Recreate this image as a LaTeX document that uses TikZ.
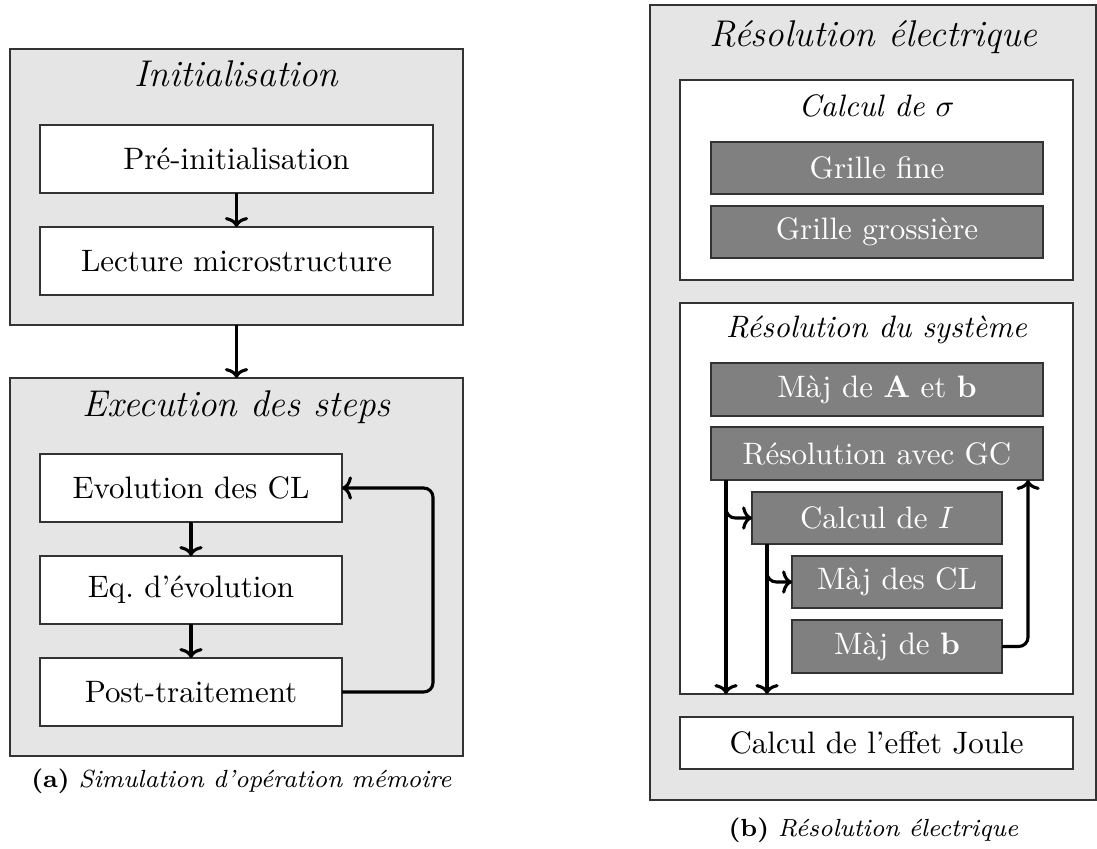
\documentclass[tikz,border=0pt]{standalone}
\usetikzlibrary{arrows.meta}
\newcommand\pxu{0.32258pt}
\begin{document}
\begin{tikzpicture}[x=0.32258pt,y=-0.32258pt,
  every node/.style={inner sep=0pt, outer sep=0pt},
  sz/.style 2 args={minimum width=#1*\pxu, minimum height=#2*\pxu},
  panel/.style={draw=black!80, fill=gray!20, line width=0.5pt, rectangle},
  wbox/.style={draw=black!80, fill=white, line width=0.5pt, rectangle, font=\fontsize{10}{12}\selectfont},
  gbox/.style={draw=black!80, fill=gray, text=white, line width=0.5pt, rectangle, font=\fontsize{10}{12}\selectfont},
  ttl/.style={font=\fontsize{12}{14}\selectfont\itshape, anchor=base},
  sttl/.style={font=\fontsize{10}{12}\selectfont\itshape, anchor=base},
  captxt/.style={font=\fontsize{8}{10}\selectfont, anchor=base},
  arr/.style={-{Computer Modern Rightarrow[width=7.5pt,length=3.2pt]}, line width=1pt},
]
\useasboundingbox (0,0) rectangle (1097,848);
% ---- left panel
\node[panel, sz={453}{276}] (init) at (236.5,187) {};
\node[ttl] (initT) at (236.5,87) {Initialisation};
\node[wbox, sz={393}{68}] (pre) at (236.5,159) {Pré-initialisation};
\node[wbox, sz={393}{68}] (lect) at (236.5,261) {Lecture microstructure};
\node[panel, sz={453}{378}] (exec) at (236.5,567) {};
\node[ttl] (execT) at (236.5,416) {Execution des steps};
\node[wbox, sz={302}{68}] (evol) at (191,488) {Evolution des CL};
\node[wbox, sz={302}{68}] (eq) at (191,590) {Eq.\ d’évolution};
\node[wbox, sz={302}{68}] (post) at (191,692) {Post-traitement};
\node[captxt] (capa) at (241.5,787) {\textbf{(a)} \textit{Simulation d’opération mémoire}};
\draw[arr] (pre) -- (lect);
\draw[arr] (init) -- (exec);
\draw[arr] (evol) -- (eq);
\draw[arr] (eq) -- (post);
\coordinate (lp) at (433,0);
\draw[arr, rounded corners=3pt] (post.east) -- (post.east -| lp) -- (lp |- evol.east) -- (evol.east);
% ---- right panel
\node[panel, sz={446}{795}] (elec) at (873,402.5) {};
\node[ttl] (elecT) at (873.5,47) {Résolution électrique};
\node[wbox, sz={393}{200}] (sig) at (876.5,180) {};
\node[sttl] (sigT) at (876.5,116) {Calcul de $\sigma$};
\node[gbox, sz={332}{52}] (gf) at (877,168) {Grille fine};
\node[gbox, sz={332}{52}] (gg) at (877,232) {Grille grossière};
\node[wbox, sz={393}{391}] (sys) at (876.5,498.5) {};
\node[sttl] (sysT) at (876.5,337) {Résolution du système};
\node[gbox, sz={332}{53}] (majA) at (877,389.5) {Màj de $\mathbf{A}$ et $\mathbf{b}$};
\node[gbox, sz={332}{53}] (gc) at (877,453.5) {Résolution avec GC};
\node[gbox, sz={250}{52}] (calcI) at (877,518) {Calcul de $I$};
\node[gbox, sz={210}{52}] (majCL) at (897,582) {Màj des CL};
\node[gbox, sz={210}{53}] (majb) at (897,646.5) {Màj de $\mathbf{b}$};
\node[wbox, sz={393}{52}] (joule) at (876.5,743) {Calcul de l’effet Joule};
\node[captxt] (capb) at (873.5,836) {\textbf{(b)} \textit{Résolution électrique}};
\coordinate (v1) at (726,0);
\coordinate (v2) at (767,0);
\coordinate (v3) at (1028,0);
\draw[arr] (v1 |- gc.south) -- (v1 |- sys.south);
\draw[arr, rounded corners=3pt] (v1 |- gc.south) |- (calcI.west);
\draw[arr] (v2 |- calcI.south) -- (v2 |- sys.south);
\draw[arr, rounded corners=3pt] (v2 |- calcI.south) |- (majCL.west);
\draw[arr, rounded corners=3pt] (majb.east) -| (v3 |- gc.south);
\end{tikzpicture}
\end{document}
